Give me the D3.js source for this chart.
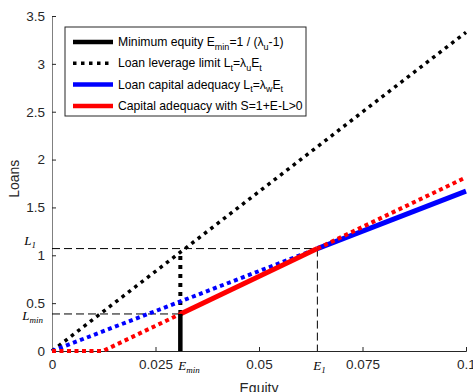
<!DOCTYPE html>
<html>
<head>
<meta charset="utf-8">
<script src="https://cdn.jsdelivr.net/npm/d3@7"></script>
<style>
  body { margin: 0; background: #fff; }
  svg { display: block; font-family: "Liberation Sans", Arial, sans-serif; }
  .math { font-family: "Liberation Serif", "Times New Roman", serif; font-style: italic; }
</style>
</head>
<body>
<div id="chart"></div>
<script>
// Equity vs Loans : limites de levier / adéquation des fonds propres

// Axes
const xTicks = [0, 0.025, 0.05, 0.075, 0.1];
const xTickLabels = ["0", "0.025", "0.05", "0.075", "0.1"];
const yTicks = [0, 0.5, 1, 1.5, 2, 2.5, 3, 3.5];
const yTickLabels = ["0", "0.5", "1", "1.5", "2", "2.5", "3", "3.5"];

// Points remarquables
const eMin = 0.031, lMin = 0.387;
const e1 = 0.0641, l1 = 1.07;

// Séries [equity, loans]
const leverageLimit   = [[0, 0], [0.1, 3.33]];
const leverageAtEmin  = [[0.031, 0.387], [0.031, 1.03]];
const minEquity       = [[0.031, 0], [0.031, 0.387]];
const blueDotted      = [[0, 0], [0.0641, 1.07]];
const blueSolid       = [[0.0641, 1.07], [0.1, 1.67]];
const redDottedLow    = [[0, 0], [0.0123, 0], [0.031, 0.387]];
const redSolid        = [[0.031, 0.387], [0.0641, 1.07]];
const redDottedHigh   = [[0.0641, 1.07], [0.1, 1.815]];

// Lignes de repère pointillées fines
const guideLines = [
  [[0, 1.07], [0.0641, 1.07]],
  [[0.0641, 1.07], [0.0641, 0]],
  [[0, 0.387], [0.031, 0.387]]
];

const legendLabels = [
  { key: "min", parts: [["Minimum equity E", null], ["min", "sub"], ["=1 / (", null], ["λ", null], ["u", "sub"], ["-1)", null]] },
  { key: "lev", parts: [["Loan leverage limit L", null], ["t", "sub"], ["=", null], ["λ", null], ["u", "sub"], ["E", null], ["t", "sub"]] },
  { key: "cap", parts: [["Loan capital adequacy L", null], ["t", "sub"], ["=", null], ["λ", null], ["w", "sub"], ["E", null], ["t", "sub"]] },
  { key: "s",   parts: [["Capital adequacy with S=1+E-L>0", null]] }
];

const width = 473, height = 392;
const margin = { top: 16, right: 7, bottom: 41, left: 52 };

const svg = d3.select("#chart").append("svg")
  .attr("width", width)
  .attr("height", height);

const x = d3.scaleLinear()
  .domain([0, 0.1])
  .range([margin.left, width - margin.right]);

const y = d3.scaleLinear()
  .domain([0, 3.5])
  .range([height - margin.bottom, margin.top]);

const line = d3.line().x(d => x(d[0])).y(d => y(d[1]));

// Axe X
const xAxis = svg.append("g")
  .attr("transform", `translate(0,${y(0)})`)
  .call(d3.axisBottom(x).tickValues(xTicks).tickSize(-4).tickPadding(8)
    .tickFormat((d, i) => xTickLabels[i]));
xAxis.select(".domain").attr("stroke", "#262626");
xAxis.selectAll(".tick line").attr("stroke", "#262626");
xAxis.selectAll("text").attr("font-size", 13.5).attr("fill", "#262626")
  .attr("font-family", "Liberation Sans, Arial, sans-serif");

// Axe Y
const yAxis = svg.append("g")
  .attr("transform", `translate(${x(0)},0)`)
  .call(d3.axisLeft(y).tickValues(yTicks).tickSize(-4).tickPadding(7)
    .tickFormat((d, i) => yTickLabels[i]));
yAxis.select(".domain").attr("stroke", "#808080");
yAxis.selectAll(".tick line").attr("stroke", "#262626");
yAxis.selectAll("text").attr("font-size", 13.5).attr("fill", "#262626")
  .attr("font-family", "Liberation Sans, Arial, sans-serif");

// Titres d'axes
svg.append("text")
  .attr("x", x(0.05))
  .attr("y", height + 1)
  .attr("text-anchor", "middle")
  .attr("font-size", 14)
  .attr("fill", "#262626")
  .text("Equity");

svg.append("text")
  .attr("transform", `translate(19,${y(1.8)}) rotate(-90)`)
  .attr("text-anchor", "middle")
  .attr("font-size", 14)
  .attr("fill", "#262626")
  .text("Loans");

// Repères pointillés
svg.selectAll("path.guide")
  .data(guideLines)
  .join("path")
  .attr("class", "guide")
  .attr("d", line)
  .attr("fill", "none")
  .attr("stroke", "#000")
  .attr("stroke-width", 1)
  .attr("stroke-dasharray", "8 4");

// Courbes
function drawSeries(data, color, w, dash) {
  svg.append("path")
    .datum(data)
    .attr("d", line)
    .attr("fill", "none")
    .attr("stroke", color)
    .attr("stroke-width", w)
    .attr("stroke-dasharray", dash);
}

drawSeries(leverageLimit, "#000", 3.5, "3.5 4.5");
drawSeries(leverageAtEmin, "#000", 4, "4 5");
drawSeries(blueDotted, "#0000ff", 4, "4 3.5");
drawSeries(blueSolid, "#0000ff", 5, null);
drawSeries(redDottedLow, "#ff0000", 4, "4 3.5");
drawSeries(redDottedHigh, "#ff0000", 4, "4 3.5");
drawSeries(redSolid, "#ff0000", 5, null);
drawSeries(minEquity, "#000", 4.5, null);

// Libellés mathématiques
function mathLabel(px, py, main, sub, anchor) {
  const t = svg.append("text")
    .attr("class", "math")
    .attr("x", px)
    .attr("y", py)
    .attr("text-anchor", anchor)
    .attr("font-size", 13)
    .attr("fill", "#000");
  t.append("tspan").text(main);
  t.append("tspan").attr("dy", 3).attr("font-size", 9).text(sub);
}
mathLabel(x(0) - 16, y(l1) - 4, "L", "1", "end");
mathLabel(x(0) - 9, y(lMin) + 6, "L", "min", "end");
mathLabel(x(eMin) - 2, y(0) + 19, "E", "min", "start");
mathLabel(x(e1) - 4, y(0) + 19, "E", "1", "start");

// Légende
const legend = svg.append("g").attr("transform", "translate(65,27)");
legend.append("rect")
  .attr("width", 241)
  .attr("height", 89)
  .attr("fill", "#fff")
  .attr("stroke", "#262626")
  .attr("stroke-width", 1);

const legendStyles = {
  min: { color: "#000", w: 4.5, dash: null },
  lev: { color: "#000", w: 3.5, dash: "3.5 4.5" },
  cap: { color: "#0000ff", w: 4.5, dash: null },
  s:   { color: "#ff0000", w: 4.5, dash: null }
};

legendLabels.forEach((item, i) => {
  const cy = 15 + i * 21.3;
  const st = legendStyles[item.key];
  legend.append("line")
    .attr("x1", 8).attr("x2", 48)
    .attr("y1", cy).attr("y2", cy)
    .attr("stroke", st.color)
    .attr("stroke-width", st.w)
    .attr("stroke-dasharray", st.dash);
  const t = legend.append("text")
    .attr("x", 53)
    .attr("y", cy + 4)
    .attr("font-size", 12.2)
    .attr("fill", "#000");
  let shifted = 0;
  item.parts.forEach(([txt, kind]) => {
    const dy = kind === "sub" ? 3.5 - shifted : -shifted;
    shifted = kind === "sub" ? 3.5 : 0;
    t.append("tspan")
      .attr("dy", dy)
      .attr("font-size", kind === "sub" ? 9 : 12.2)
      .text(txt);
  });
});
</script>
</body>
</html>
